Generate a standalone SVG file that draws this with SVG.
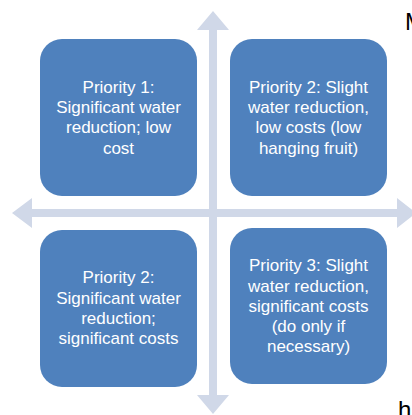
<svg xmlns="http://www.w3.org/2000/svg" width="412" height="415" viewBox="0 0 412 415">
<style>
.box{fill:#4F81BD}
.lbl{font-family:"Liberation Sans",Arial,sans-serif;font-size:17px;fill:#FFFFFF;text-anchor:middle}
.ax{fill:#D0D8E8}
.doc{font-family:"Liberation Sans",Arial,sans-serif;font-size:24px;fill:#000000}
</style>
<rect width="412" height="415" fill="#FFFFFF"/>
<g id="connectors">
<polygon class="ax" points="213,11 229,30 217,30 217,395 229,395 213,414 197,395 209,395 209,30 197,30"/>
<polygon class="ax" points="12,213 32,198 32,209 397,209 397,198 416,213 397,228 397,217 32,217 32,228"/>
</g>
<g id="node1">
<rect class="box" x="40" y="39" width="157" height="157" rx="22"/>
<text class="lbl"><tspan x="118.5" y="93">Priority 1:</tspan><tspan x="118.5" y="113">Significant water</tspan><tspan x="118.5" y="133">reduction; low</tspan><tspan x="118.5" y="154">cost</tspan></text>
</g>
<g id="node2">
<rect class="box" x="230" y="39" width="157" height="157" rx="22"/>
<text class="lbl"><tspan x="308.5" y="93">Priority 2: Slight</tspan><tspan x="308.5" y="113">water reduction,</tspan><tspan x="308.5" y="133">low costs (low</tspan><tspan x="308.5" y="154">hanging fruit)</tspan></text>
</g>
<g id="node3">
<rect class="box" x="40" y="230" width="157" height="157" rx="22"/>
<text class="lbl"><tspan x="118.5" y="283">Priority 2:</tspan><tspan x="118.5" y="304">Significant water</tspan><tspan x="118.5" y="324">reduction;</tspan><tspan x="118.5" y="344">significant costs</tspan></text>
</g>
<g id="node4">
<rect class="box" x="230" y="228" width="157" height="156" rx="22"/>
<text class="lbl"><tspan x="308.5" y="271">Priority 3: Slight</tspan><tspan x="308.5" y="292">water reduction,</tspan><tspan x="308.5" y="312">significant costs</tspan><tspan x="308.5" y="332">(do only if</tspan><tspan x="308.5" y="352">necessary)</tspan></text>
</g>
<text class="doc" x="405" y="30">M</text>
<text class="doc" x="398" y="418">h</text>
</svg>
